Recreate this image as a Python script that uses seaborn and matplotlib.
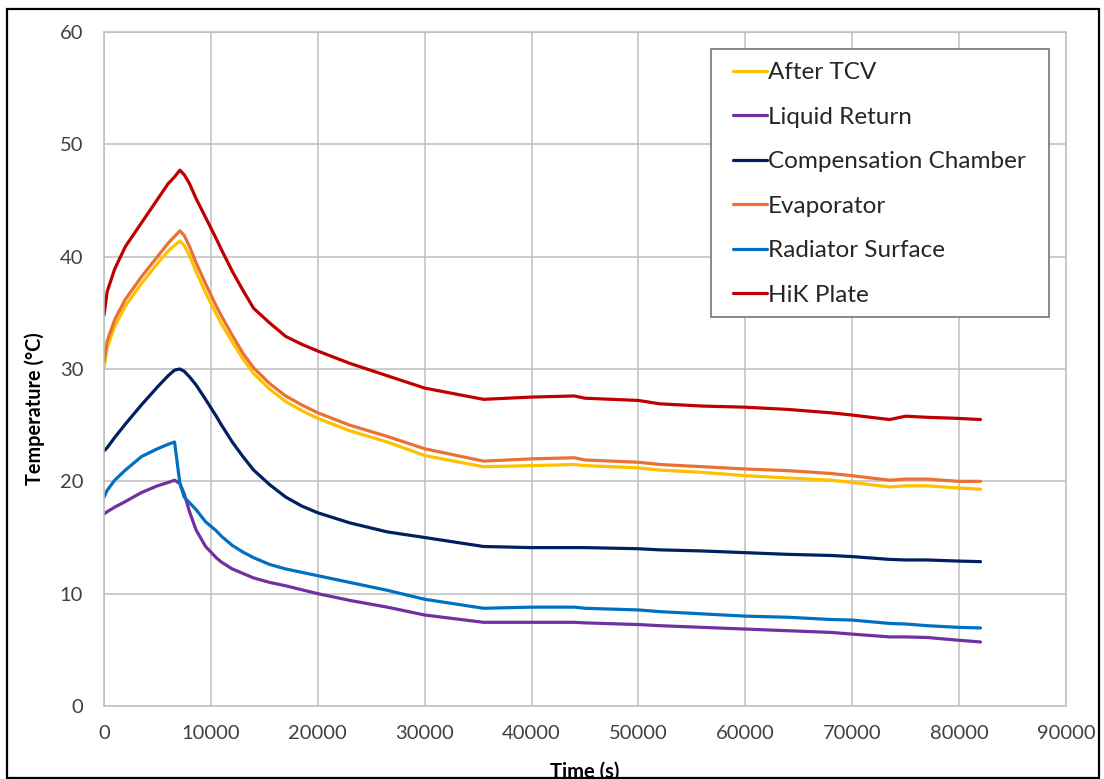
import matplotlib
matplotlib.use("Agg")
import matplotlib.pyplot as plt
from matplotlib.patches import Rectangle
import pandas as pd
import seaborn as sns

# Sample times (s)
time_s = [0, 300, 1000, 2000, 3500, 5000, 6000, 6600, 7100, 7500, 8000, 8600,
          9500, 10500, 11000, 12000, 13000, 14000, 15500, 17000, 18500, 20000,
          23000, 26500, 30000, 35500, 40000, 44000, 45000, 50000, 52000, 56000,
          60000, 64000, 68000, 70000, 73500, 75000, 77000, 80000, 82000]

# Temperatures (degC) for each sensor
after_tcv = [30.1, 31.9, 33.8, 35.6, 37.6, 39.4, 40.5, 41.0, 41.4, 41.0, 40.1, 38.7,
             36.8, 34.9, 34.0, 32.4, 30.9, 29.6, 28.2, 27.1, 26.3, 25.6,
             24.5, 23.5, 22.3, 21.3, 21.4, 21.5, 21.4, 21.2, 21.0, 20.8,
             20.5, 20.3, 20.1, 19.9, 19.5, 19.6, 19.6, 19.4, 19.3]
liquid_return = [17.1, 17.3, 17.7, 18.2, 19.0, 19.6, 19.9, 20.1, 19.8, 18.9, 17.3, 15.7,
                 14.2, 13.2, 12.8, 12.2, 11.8, 11.4, 11.0, 10.7, 10.35, 10.0,
                 9.4, 8.8, 8.1, 7.45, 7.45, 7.45, 7.4, 7.25, 7.15, 7.0,
                 6.85, 6.7, 6.55, 6.4, 6.15, 6.15, 6.1, 5.85, 5.7]
comp_chamber = [22.7, 23.0, 23.9, 25.1, 26.8, 28.4, 29.4, 29.9, 30.0, 29.8, 29.3, 28.6,
                27.3, 25.8, 25.0, 23.5, 22.2, 21.0, 19.7, 18.6, 17.8, 17.2,
                16.3, 15.5, 15.0, 14.2, 14.1, 14.1, 14.1, 14.0, 13.9, 13.8,
                13.65, 13.5, 13.4, 13.3, 13.05, 13.0, 13.0, 12.9, 12.85]
evaporator = [30.7, 32.5, 34.4, 36.2, 38.2, 40.0, 41.2, 41.8, 42.3, 41.9, 40.9, 39.5,
              37.6, 35.6, 34.7, 33.0, 31.4, 30.1, 28.7, 27.6, 26.8, 26.1,
              25.0, 24.0, 22.9, 21.8, 22.0, 22.1, 21.9, 21.7, 21.5, 21.3,
              21.1, 20.95, 20.7, 20.5, 20.1, 20.2, 20.2, 20.0, 20.0]
radiator_surface = [18.6, 19.2, 20.1, 21.0, 22.2, 22.9, 23.3, 23.5, 19.8, 18.6, 18.1, 17.5,
                    16.4, 15.6, 15.1, 14.3, 13.7, 13.2, 12.6, 12.2, 11.9, 11.6,
                    11.0, 10.3, 9.5, 8.7, 8.8, 8.8, 8.7, 8.55, 8.4, 8.2,
                    8.0, 7.9, 7.7, 7.65, 7.35, 7.3, 7.15, 7.0, 6.95]
hik_plate = [34.8, 36.9, 38.9, 40.9, 43.0, 45.1, 46.5, 47.1, 47.7, 47.3, 46.5, 45.2,
             43.5, 41.6, 40.6, 38.7, 37.0, 35.4, 34.1, 32.9, 32.2, 31.6,
             30.5, 29.4, 28.3, 27.3, 27.5, 27.6, 27.4, 27.2, 26.9, 26.7,
             26.6, 26.4, 26.1, 25.9, 25.5, 25.8, 25.7, 25.6, 25.5]

series_names = ["After TCV", "Liquid Return", "Compensation Chamber",
                "Evaporator", "Radiator Surface", "HiK Plate"]
series_values = [after_tcv, liquid_return, comp_chamber,
                 evaporator, radiator_surface, hik_plate]
series_colors = ["#FFC000", "#7030A0", "#002060", "#E97132", "#0070C0", "#C00000"]

x_ticks = list(range(0, 90001, 10000))
y_ticks = list(range(0, 61, 10))

frames = [pd.DataFrame({"Time (s)": time_s, "Temperature": vals, "Sensor": name})
          for name, vals in zip(series_names, series_values)]
df = pd.concat(frames, ignore_index=True)

sns.set_style("whitegrid")
plt.rcParams["font.family"] = ["Lato", "DejaVu Sans"]

W, H = 1104, 779
fig = plt.figure(figsize=(W / 100, H / 100), dpi=100)
ax_left, ax_right, ax_top, ax_bottom = 104, 1066, 32, 706
ax_w, ax_h = ax_right - ax_left, ax_bottom - ax_top
ax = fig.add_axes([ax_left / W, 1 - ax_bottom / H, ax_w / W, ax_h / H])


def ax_x(px):
    return (px - ax_left) / ax_w


def ax_y(py):
    return (ax_bottom - py) / ax_h


sns.lineplot(data=df, x="Time (s)", y="Temperature", hue="Sensor",
             hue_order=series_names, palette=series_colors,
             linewidth=2.3, ax=ax, sort=False, estimator=None)

ax.set_xlim(0, 90000)
ax.set_ylim(0, 60)
ax.set_xticks(x_ticks)
ax.set_yticks(y_ticks)
ax.set_xticklabels([str(t) for t in x_ticks])
ax.set_yticklabels([str(t) for t in y_ticks])
ax.tick_params(axis="both", length=0, labelsize=14.5, labelcolor="#404040")
ax.tick_params(axis="y", pad=15)
ax.tick_params(axis="x", pad=14)
ax.grid(True, color="#BFBFBF", linewidth=1.1)
for sp in ax.spines.values():
    sp.set_visible(True)
    sp.set_color("#BFBFBF")
    sp.set_linewidth(1.1)

ax.set_xlabel("Time (s)", fontsize=14.5, fontweight="bold", color="#000000")
ax.set_ylabel("Temperature (\u00b0C)", fontsize=14.3, fontweight="bold", color="#000000")
ax.xaxis.label.set_verticalalignment("top")
ax.xaxis.set_label_coords(0.5, ax_y(762))
ax.yaxis.label.set_verticalalignment("center")
ax.yaxis.set_label_coords(ax_x(35), ax_y(409))

# legend entries, with a separate square-cornered frame behind them
leg = ax.legend(loc="upper left", bbox_to_anchor=(ax_x(733), ax_y(62)),
                fontsize=17.5, frameon=False,
                handlelength=1.4, handletextpad=0.05, labelspacing=0.97,
                borderpad=0, borderaxespad=0)
leg.set_zorder(6)
for line in leg.get_lines():
    line.set_linewidth(2.3)
for txt in leg.get_texts():
    txt.set_color("#262626")

ax.add_patch(Rectangle((ax_x(711), ax_y(317)), ax_x(1049) - ax_x(711),
                       ax_y(49) - ax_y(317), transform=ax.transAxes,
                       facecolor="white", edgecolor="#808080", linewidth=1.3,
                       zorder=5))

# outer chart border
fig.patches.append(Rectangle((7 / W, 0.6 / H), (1099 - 7) / W, (778 - 9) / H,
                             transform=fig.transFigure, fill=False,
                             edgecolor="black", linewidth=1.6, zorder=10))

fig.savefig("out.png", dpi=100)
